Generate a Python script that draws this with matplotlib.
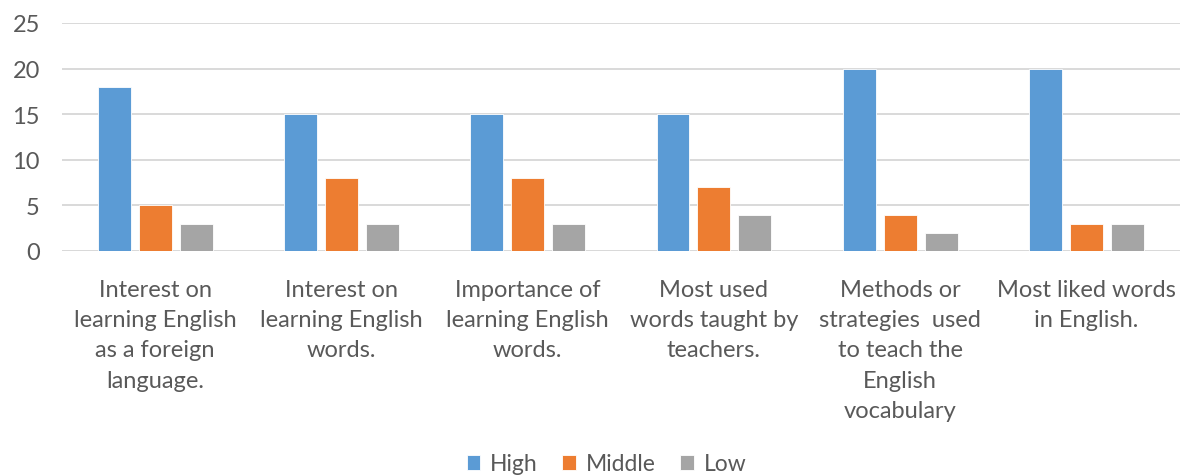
import matplotlib
matplotlib.use("Agg")
import matplotlib.pyplot as plt
import numpy as np

categories = [
    "Interest on\nlearning English\nas a foreign\nlanguage.",
    "Interest on\nlearning English\nwords.",
    "Importance of\nlearning English\nwords.",
    "Most used\nwords taught by\nteachers.",
    "Methods or\nstrategies  used\nto teach the\nEnglish\nvocabulary",
    "Most liked words\nin English.",
]
series = ["High", "Middle", "Low"]
high = [18, 15, 15, 15, 20, 20]
middle = [5, 8, 8, 7, 4, 3]
low = [3, 3, 3, 4, 2, 3]

colors = ["#5B9BD5", "#ED7D31", "#A5A5A5"]
text_c = "#595959"
grid_c = "#D9D9D9"

plt.rcParams["font.family"] = ["Lato", "DejaVu Sans"]
fs = 17

fig = plt.figure(figsize=(11.82, 4.77), dpi=100)
ax = fig.add_axes([0.0525, 0.4717, 0.9455, 0.478])

x = np.arange(len(categories))
w, step = 0.177, 0.22
for i, (name, vals) in enumerate(zip(series, [high, middle, low])):
    ax.bar(x + (i - 1) * step, vals, w, color=colors[i], label=name,
           edgecolor="white", linewidth=0.6, zorder=3)

ax.set_xlim(-0.5, len(categories) - 0.5)
ax.set_ylim(0, 25)
ax.set_yticks(range(0, 26, 5))
ax.yaxis.grid(True, color=grid_c, lw=1.4, zorder=0)
ax.set_axisbelow(True)
for s in ax.spines.values():
    s.set_visible(False)
ax.axhline(0, color=grid_c, lw=1.4, zorder=1)

ax.set_xticks(x)
ax.set_xticklabels(categories, fontsize=fs, color=text_c, linespacing=1.55)
ax.tick_params(axis="x", length=0, pad=20)
ax.tick_params(axis="y", length=0, labelsize=fs, labelcolor=text_c, pad=16)

fig.legend(loc="lower center", ncol=3, frameon=False, bbox_to_anchor=(0.513, -0.04),
           fontsize=16.5, labelcolor=text_c, handlelength=0.6, handleheight=0.6,
           handletextpad=0.4, columnspacing=1.1)

fig.savefig("out.png", dpi=100)
